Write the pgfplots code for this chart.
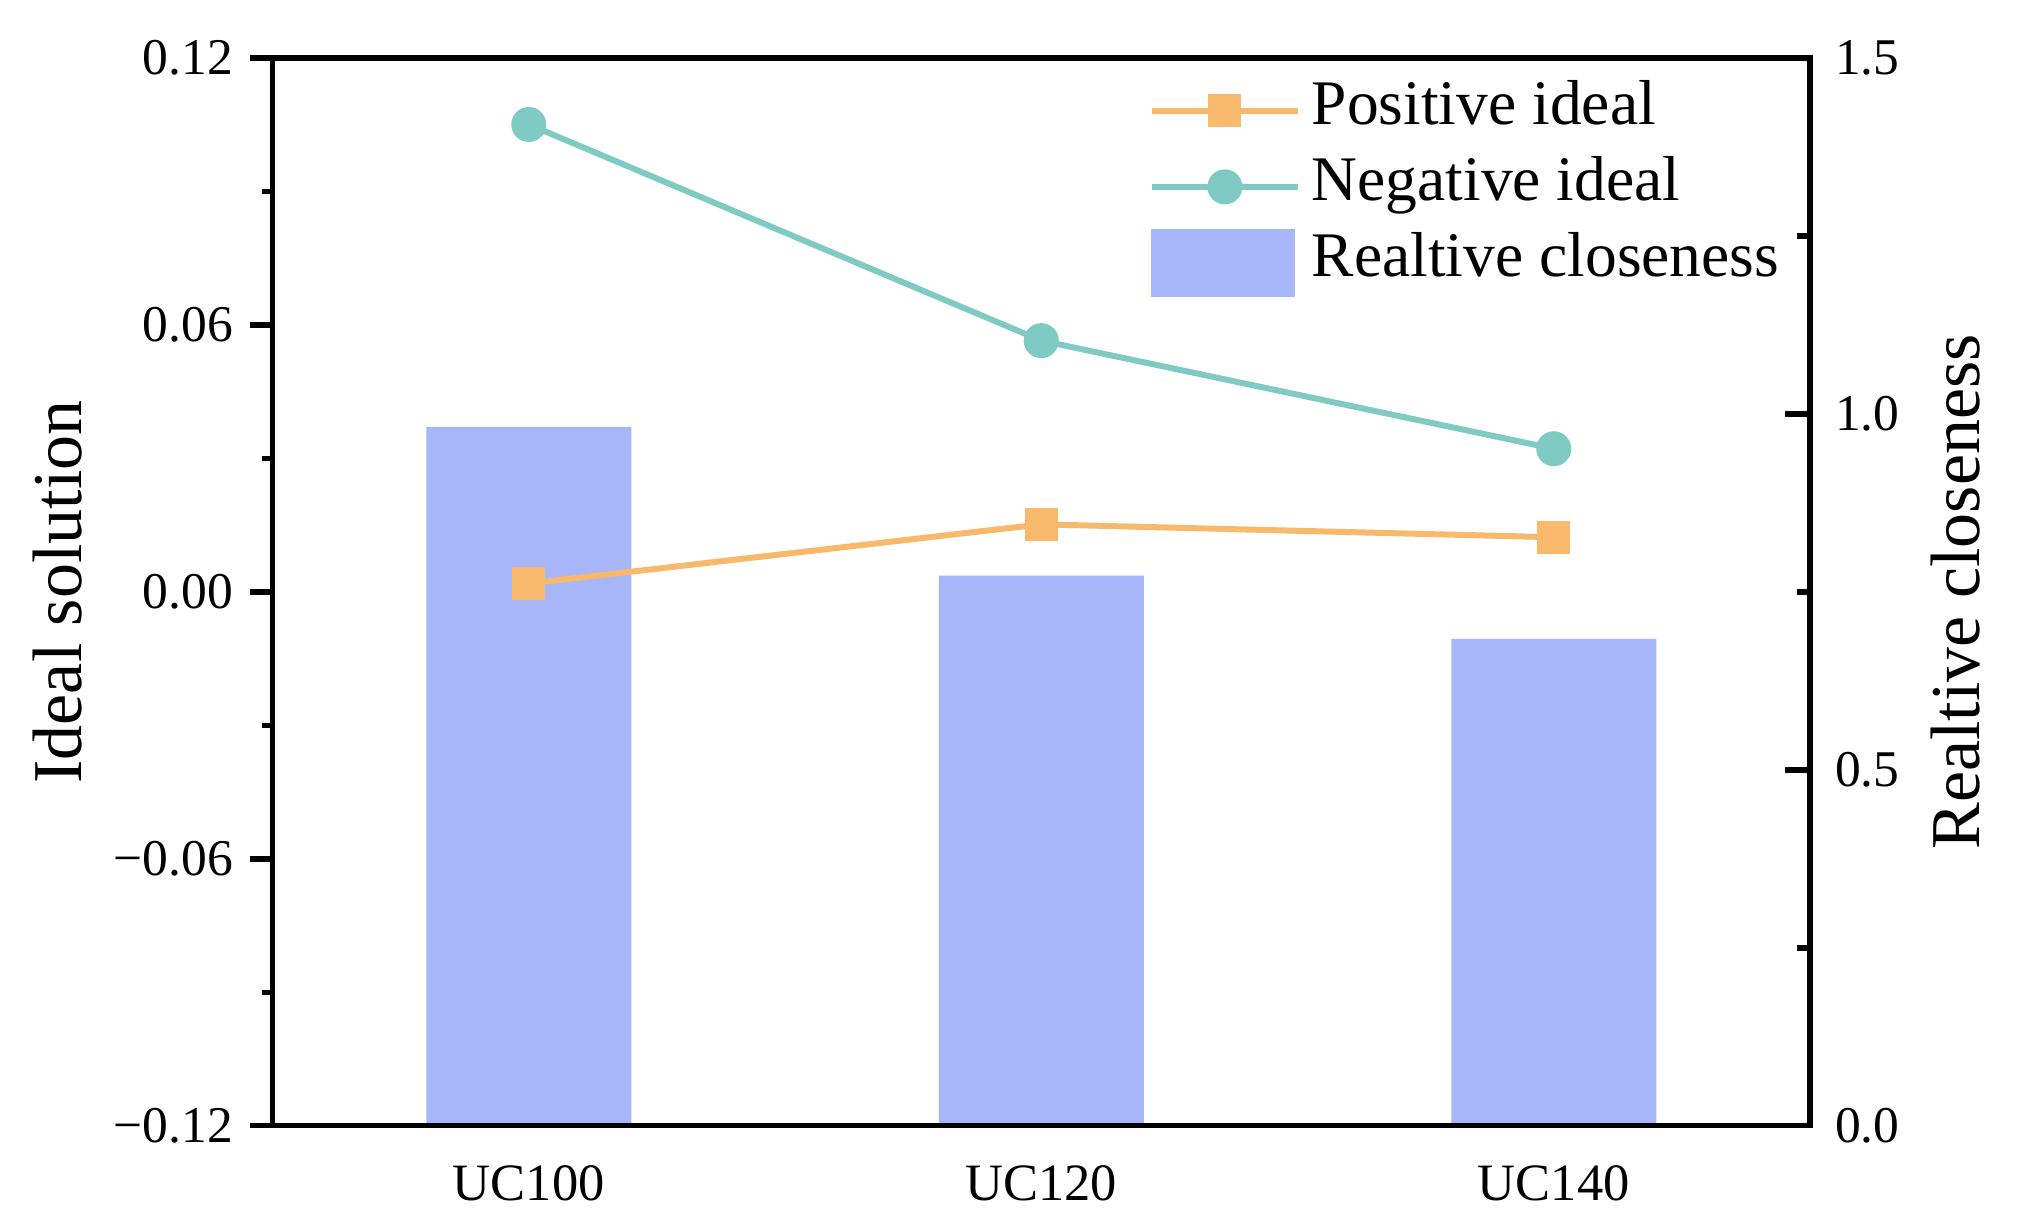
\documentclass[border=0pt]{standalone}
\usepackage{fontspec}
\setmainfont{Liberation Serif}
\usepackage{pgfplots}
\pgfplotsset{compat=1.18}
\definecolor{posc}{HTML}{F8B96C}
\definecolor{negc}{HTML}{7FCBC4}
\definecolor{barc}{HTML}{A6B6F9}
\begin{document}
\begin{tikzpicture}
\path[use as bounding box] (-54.5pt,-18.26pt) rectangle (349.1pt,225.14pt);
\begin{axis}[
 at={(0pt,0pt)}, anchor=south west,
 scale only axis, width=307.5pt, height=213.5pt,
 xmin=-0.5, xmax=2.5, ymin=0, ymax=1.5,
 axis x line=none, axis y line*=right,
 axis line style={line width=1.1pt, -},
 ytick={0,0.5,1,1.5}, yticklabels={0.0,0.5,1.0,1.5},
 minor ytick={0.25,0.75,1.25},
 tick align=inside, major tick length=5pt, minor tick length=2.7pt,
 every tick/.style={black, line width=1.1pt},
 yticklabel style={font=\fontsize{10.3}{12}\selectfont, xshift=1.5pt},
 ylabel={Realtive closeness},
 ylabel style={font=\fontsize{14}{16}\selectfont, at={(axis description cs:1.0945,0.5)}, anchor=center},
]
\addplot[ybar, bar width=0.4, fill=barc, draw=none] coordinates {(0,0.982) (1,0.773) (2,0.684)};
\end{axis}
\begin{axis}[
 at={(0pt,0pt)}, anchor=south west,
 scale only axis, width=307.5pt, height=213.5pt,
 xmin=-0.5, xmax=2.5, ymin=-0.12, ymax=0.12,
 axis line style={line width=1.1pt},
 xtick={0,1,2}, xticklabels={UC100,UC120,UC140},
 xtick pos=bottom, ytick pos=left,
 ytick={-0.12,-0.06,0,0.06,0.12}, yticklabels={−0.12,−0.06,0.00,0.06,0.12},
 minor ytick={-0.09,-0.03,0.03,0.09},
 tick align=outside, major tick length=4.4pt, minor tick length=2pt,
 every tick/.style={black, line width=1.1pt},
 every x tick/.style={draw=none},
 yticklabel style={font=\fontsize{10.3}{12}\selectfont},
 xticklabel style={font=\fontsize{10.5}{12}\selectfont},
 ylabel={Ideal solution},
 ylabel style={font=\fontsize{14}{16}\selectfont, at={(axis description cs:-0.1398,0.5)}, anchor=center},
 legend cell align=left,
 legend style={at={(axis description cs:0.5700,0.9825)}, anchor=north west, draw=none, fill=none,
   inner sep=0pt, outer sep=0pt, column sep=2.2pt, row sep=1.6pt,
   font=\fontsize{12.7}{14}\selectfont,
   nodes={inner sep=0pt, text height=9.6pt, text depth=4pt}},
 legend image code/.code={\draw[mark repeat=2,mark phase=2,#1] plot coordinates {(0pt,0pt) (14.6pt,0pt) (29.2pt,0pt)};},
]
\addplot[color=posc, line width=1.2pt, mark=square*, mark size=2.7pt, mark options={solid, fill=posc, draw=none}] coordinates {(0,0.0019) (1,0.0152) (2,0.0123)};
\addlegendentry{Positive ideal}
\addplot[color=negc, line width=1.2pt, mark=*, mark size=2.9pt, mark options={solid, fill=negc, draw=none}] coordinates {(0,0.1051) (1,0.0565) (2,0.0322)};
\addlegendentry{Negative ideal}
\addlegendimage{legend image code/.code={\fill[barc] (0pt,-6.6pt) rectangle (28.4pt,6.6pt);}}
\addlegendentry{Realtive closeness}
\end{axis}
\end{tikzpicture}
\end{document}
